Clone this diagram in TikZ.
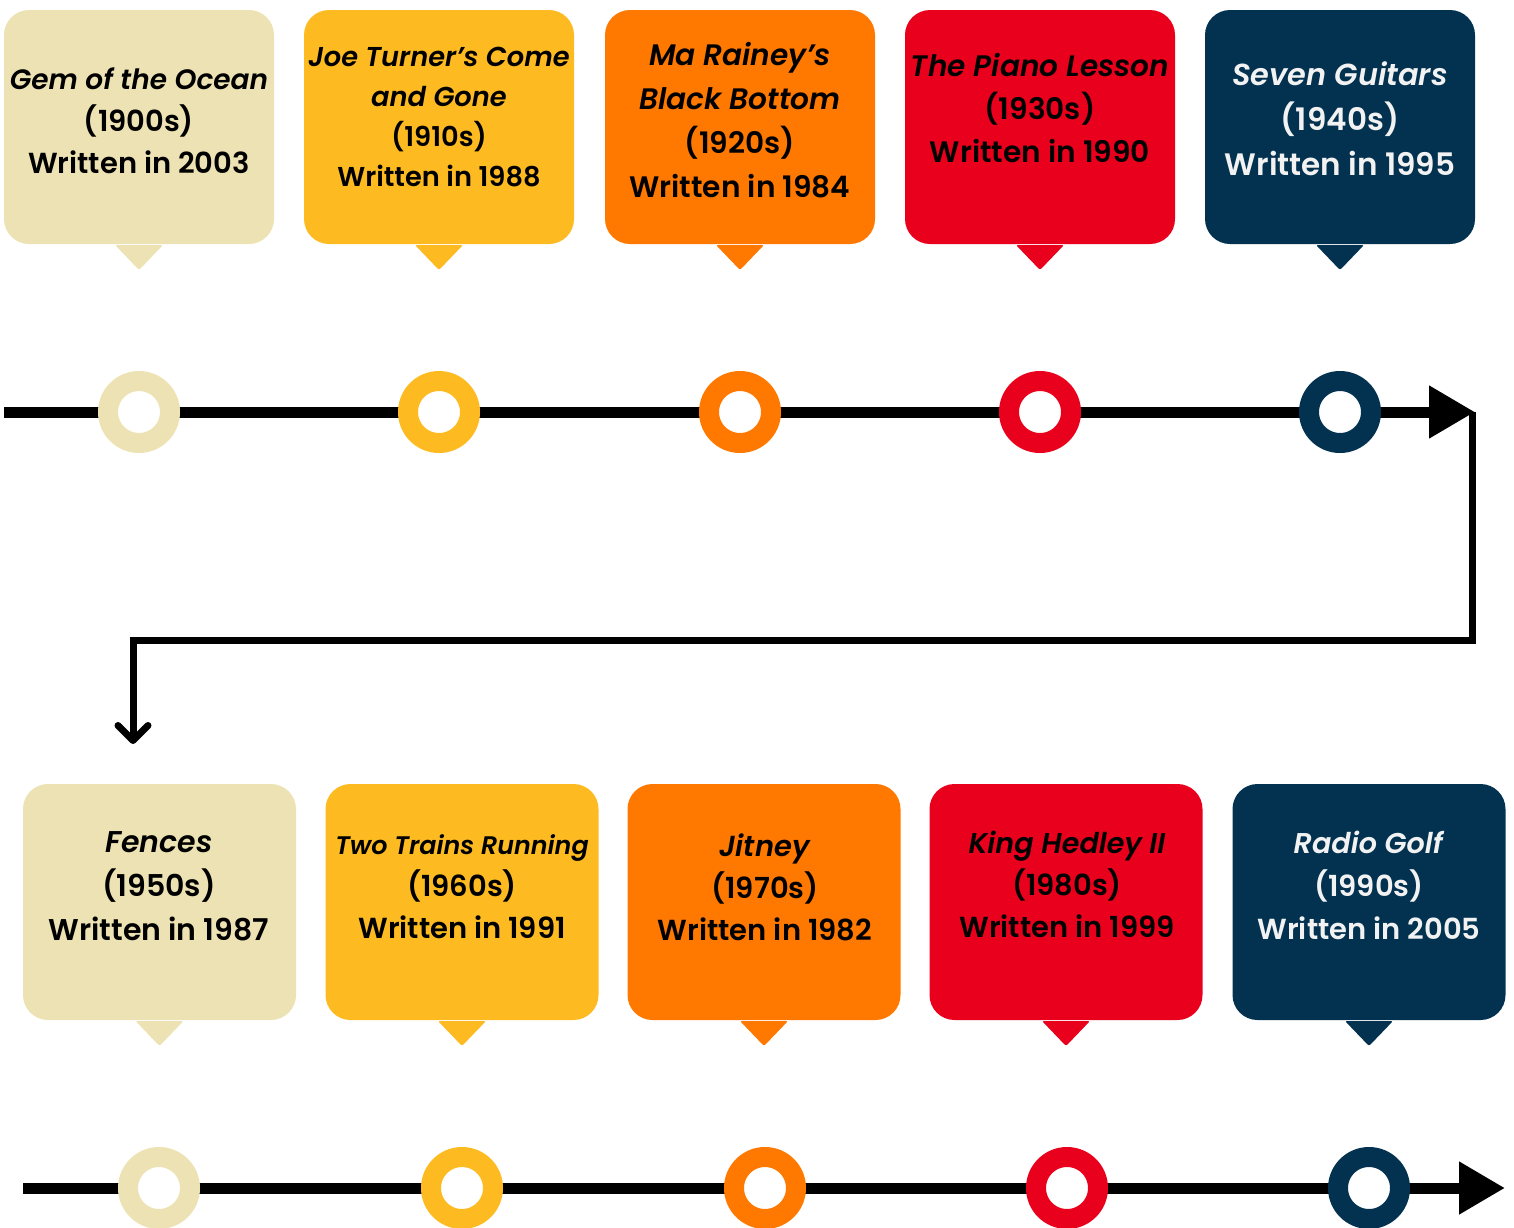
\documentclass[tikz,border=0pt]{standalone}
\usepackage{fontspec}
\setmainfont{Poppins}[BoldFont={Poppins SemiBold},BoldItalicFont={Poppins SemiBold Italic}]
\usetikzlibrary{arrows.meta,calc}
\definecolor{cbeige}{HTML}{EDE2B3}
\definecolor{cyellow}{HTML}{FDBB21}
\definecolor{corange}{HTML}{FF7800}
\definecolor{cred}{HTML}{E9001C}
\definecolor{cnavy}{HTML}{023250}
\definecolor{cwhite}{HTML}{F2F2F2}
\newcommand\setfs[2]{\fontsize{#1}{#2}\selectfont\bfseries}
\tikzset{
  callout/.style={rounded corners=25pt, inner sep=0pt, outer sep=0pt},
  topbox/.style={callout, minimum width=270pt, minimum height=234pt},
  botbox/.style={callout, minimum width=273pt, minimum height=236pt},
  txt/.style={align=center, inner sep=0pt, font=\setfs{28}{42}},
  ring/.style={circle, minimum size=62pt, inner sep=0pt, line width=20pt, fill=white},
  axis/.style={line width=11pt, -{Triangle[length=46pt,width=50pt]}},
}
\newcommand\tail[2]{\fill[#2, rounded corners=2pt] ($(#1.south)+(-24,1)$) -- ($(#1.south)+(0,26)$) -- ($(#1.south)+(24,1)$) -- cycle;}
\begin{document}
\begin{tikzpicture}[x=1pt,y=-1pt]
\useasboundingbox (0,0) rectangle (1514,1227);
% timelines
\coordinate (s1) at (4,412);
\coordinate (a1) at (1475,412);
\coordinate (s2) at (23,1188);
\coordinate (a2) at (1505,1188);
\coordinate (k1) at (1472,640);
\coordinate (k2) at (133,640);
\coordinate (k3) at (133,744);
\coordinate (k0) at (1472,412);
\draw[axis] (s1) -- (a1);
\draw[axis] (s2) -- (a2);
\draw[line width=7pt, -{Straight Barb[length=15pt,width=30pt,round]}] (k0) -- (k1) -- (k2) -- (k3);
% circles
\node[ring, draw=cbeige] (c1) at (139,412) {};
\node[ring, draw=cyellow] (c2) at (439,412) {};
\node[ring, draw=corange] (c3) at (740,412) {};
\node[ring, draw=cred] (c4) at (1040,412) {};
\node[ring, draw=cnavy] (c5) at (1340,412) {};
\node[ring, draw=cbeige] (c6) at (159,1188) {};
\node[ring, draw=cyellow] (c7) at (462,1188) {};
\node[ring, draw=corange] (c8) at (765,1188) {};
\node[ring, draw=cred] (c9) at (1067,1188) {};
\node[ring, draw=cnavy] (c10) at (1369,1188) {};
% top boxes
\node[topbox, fill=cbeige] (b1) at (139,127) {};
\node[topbox, fill=cyellow] (b2) at (439,127) {};
\node[topbox, fill=corange] (b3) at (740,127) {};
\node[topbox, fill=cred] (b4) at (1040,127) {};
\node[topbox, fill=cnavy] (b5) at (1340,127) {};
\tail{b1}{cbeige}
\tail{b2}{cyellow}
\tail{b3}{corange}
\tail{b4}{cred}
\tail{b5}{cnavy}
% bottom boxes
\node[botbox, fill=cbeige] (b6) at (159.5,902) {};
\node[botbox, fill=cyellow] (b7) at (462,902) {};
\node[botbox, fill=corange] (b8) at (764,902) {};
\node[botbox, fill=cred] (b9) at (1066,902) {};
\node[botbox, fill=cnavy] (b10) at (1369,902) {};
\tail{b6}{cbeige}
\tail{b7}{cyellow}
\tail{b8}{corange}
\tail{b9}{cred}
\tail{b10}{cnavy}
% texts
\node[txt, font=\setfs{29}{42}] (t1) at (139,121) {{\setfs{28}{42}\textit{Gem of the Ocean}}\\(1900s)\\Written in 2003};
\node[txt, font=\setfs{27.3}{40}] (t2) at (439,117) {\textit{Joe Turner’s Come}\\\textit{and Gone}\\(1910s)\\Written in 1988};
\node[txt, font=\setfs{29.6}{44}] (t3) at (740,120) {\textit{Ma Rainey’s}\\\textit{Black Bottom}\\(1920s)\\Written in 1984};
\node[txt, font=\setfs{29.6}{43}] (t4) at (1040,108.5) {\textit{The Piano Lesson}\\(1930s)\\Written in 1990};
\node[txt, font=\setfs{31}{45}, text=cwhite] (t5) at (1340,118.5) {{\setfs{30.4}{45}\textit{Seven Guitars}}\\(1940s)\\Written in 1995};
\node[txt, font=\setfs{30}{44}] (t6) at (159,886) {\textit{Fences}\\(1950s)\\Written in 1987};
\node[txt, font=\setfs{29}{42}] (t7) at (462,886.5) {{\setfs{25.4}{42}\textit{Two Trains Running}}\\(1960s)\\Written in 1991};
\node[txt, font=\setfs{29}{42}] (t8) at (765,887) {\textit{Jitney}\\(1970s)\\Written in 1982};
\node[txt, font=\setfs{29}{42}] (t9) at (1067,884) {{\setfs{28.6}{42}\textit{King Hedley II}}\\(1980s)\\Written in 1999};
\node[txt, font=\setfs{29}{43}, text=cwhite] (t10) at (1369,885.5) {{\setfs{28.6}{43}\textit{Radio Golf}}\\(1990s)\\Written in 2005};
\end{tikzpicture}
\end{document}
